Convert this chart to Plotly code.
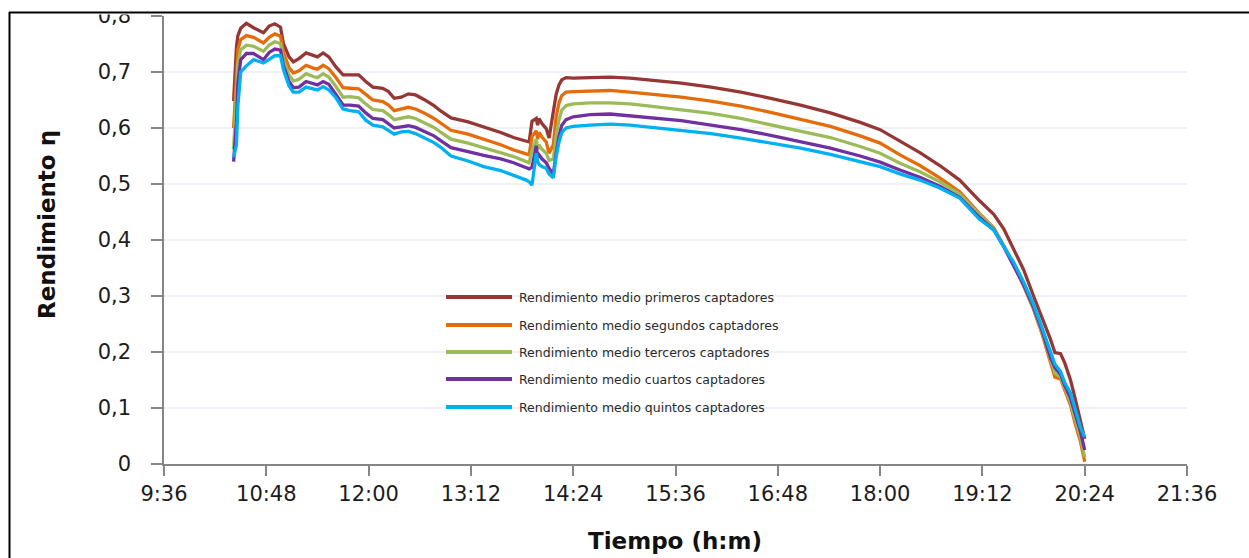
import plotly.graph_objects as go

# ---- data -------------------------------------------------------------
times = ["10:25", "10:27", "10:28", "10:30", "10:34", "10:39", "10:46", "10:50",
         "10:54", "10:58", "11:00", "11:04", "11:07", "11:11", "11:16", "11:21",
         "11:24", "11:28", "11:32", "11:37", "11:42", "11:47", "11:53", "11:58",
         "12:03", "12:10", "12:14", "12:18", "12:23", "12:28", "12:33", "12:39",
         "12:46", "12:51", "12:58", "13:10", "13:21", "13:33", "13:42", "13:51",
         "13:53", "13:55", "13:58", "13:59", "14:00", "14:02", "14:05", "14:07",
         "14:10", "14:12", "14:14", "14:16", "14:19", "14:24", "14:36", "14:50",
         "15:04", "15:18", "15:40", "16:01", "16:22", "16:43", "17:04", "17:25",
         "17:46", "18:00", "18:14", "18:28", "18:42", "18:56", "19:10", "19:20",
         "19:27", "19:34", "19:41", "19:48", "19:54", "20:00", "20:03", "20:07",
         "20:10", "20:14", "20:17", "20:21", "20:24"]

primeros = [0.648, 0.745, 0.765, 0.778, 0.787, 0.779, 0.770, 0.782, 0.786, 0.780,
            0.751, 0.727, 0.718, 0.724, 0.734, 0.729, 0.727, 0.734, 0.727, 0.709,
            0.695, 0.695, 0.695, 0.683, 0.673, 0.671, 0.665, 0.653, 0.655, 0.661,
            0.659, 0.651, 0.640, 0.630, 0.618, 0.611, 0.602, 0.592, 0.583, 0.576,
            0.575, 0.612, 0.617, 0.605, 0.617, 0.608, 0.599, 0.582, 0.635, 0.660,
            0.677, 0.686, 0.690, 0.689, 0.690, 0.691, 0.689, 0.686, 0.680, 0.673,
            0.664, 0.653, 0.641, 0.627, 0.610, 0.597, 0.577, 0.556, 0.533, 0.507,
            0.470, 0.446, 0.420, 0.384, 0.347, 0.300, 0.262, 0.222, 0.199, 0.197,
            0.180, 0.150, 0.120, 0.079, 0.045]

segundos = [0.600, 0.700, 0.740, 0.758, 0.765, 0.762, 0.752, 0.762, 0.768, 0.764,
            0.735, 0.708, 0.698, 0.702, 0.712, 0.707, 0.705, 0.712, 0.706, 0.690,
            0.672, 0.671, 0.670, 0.660, 0.650, 0.647, 0.641, 0.631, 0.634, 0.637,
            0.634, 0.627, 0.617, 0.608, 0.596, 0.589, 0.580, 0.570, 0.561, 0.553,
            0.552, 0.585, 0.595, 0.580, 0.592, 0.584, 0.575, 0.555, 0.570, 0.620,
            0.645, 0.658, 0.664, 0.665, 0.666, 0.667, 0.664, 0.661, 0.655, 0.648,
            0.639, 0.628, 0.616, 0.603, 0.586, 0.573, 0.552, 0.533, 0.511, 0.486,
            0.447, 0.422, 0.390, 0.356, 0.318, 0.276, 0.232, 0.180, 0.155, 0.152,
            0.130, 0.105, 0.075, 0.040, 0.004]

terceros = [0.562, 0.660, 0.715, 0.740, 0.748, 0.746, 0.737, 0.748, 0.754, 0.751,
            0.722, 0.695, 0.684, 0.687, 0.697, 0.692, 0.690, 0.697, 0.691, 0.674,
            0.655, 0.656, 0.654, 0.643, 0.633, 0.631, 0.624, 0.615, 0.617, 0.620,
            0.617, 0.610, 0.601, 0.592, 0.580, 0.573, 0.565, 0.556, 0.549, 0.540,
            0.538, 0.560, 0.580, 0.562, 0.570, 0.562, 0.555, 0.542, 0.545, 0.585,
            0.615, 0.632, 0.640, 0.643, 0.645, 0.645, 0.643, 0.639, 0.633, 0.626,
            0.617, 0.606, 0.595, 0.583, 0.567, 0.555, 0.537, 0.522, 0.504, 0.482,
            0.445, 0.420, 0.390, 0.357, 0.320, 0.278, 0.235, 0.185, 0.162, 0.155,
            0.135, 0.110, 0.082, 0.048, 0.012]

cuartos = [0.540, 0.610, 0.680, 0.722, 0.733, 0.733, 0.722, 0.735, 0.741, 0.739,
           0.712, 0.683, 0.672, 0.673, 0.683, 0.679, 0.677, 0.683, 0.678, 0.660,
           0.641, 0.641, 0.639, 0.627, 0.617, 0.615, 0.608, 0.600, 0.602, 0.604,
           0.601, 0.594, 0.586, 0.577, 0.565, 0.558, 0.551, 0.545, 0.538, 0.529,
           0.527, 0.530, 0.568, 0.548, 0.552, 0.545, 0.538, 0.528, 0.518, 0.555,
           0.585, 0.605, 0.615, 0.620, 0.624, 0.625, 0.622, 0.619, 0.613, 0.605,
           0.597, 0.587, 0.576, 0.564, 0.550, 0.539, 0.525, 0.512, 0.496, 0.476,
           0.440, 0.418, 0.388, 0.355, 0.320, 0.280, 0.238, 0.190, 0.172, 0.160,
           0.140, 0.118, 0.092, 0.058, 0.025]

quintos = [0.548, 0.570, 0.640, 0.700, 0.711, 0.722, 0.716, 0.722, 0.729, 0.729,
           0.705, 0.675, 0.664, 0.664, 0.673, 0.670, 0.668, 0.674, 0.668, 0.654,
           0.634, 0.631, 0.629, 0.614, 0.605, 0.602, 0.596, 0.589, 0.593, 0.594,
           0.590, 0.582, 0.574, 0.565, 0.550, 0.541, 0.531, 0.524, 0.516, 0.507,
           0.504, 0.498, 0.555, 0.540, 0.535, 0.531, 0.528, 0.518, 0.511, 0.549,
           0.575, 0.592, 0.600, 0.603, 0.605, 0.607, 0.605, 0.601, 0.596, 0.590,
           0.582, 0.573, 0.564, 0.553, 0.540, 0.531, 0.518, 0.507, 0.493, 0.475,
           0.437, 0.418, 0.388, 0.360, 0.325, 0.285, 0.243, 0.200, 0.178, 0.165,
           0.145, 0.127, 0.102, 0.066, 0.048]

series_names = ["Rendimiento medio primeros captadores",
                "Rendimiento medio segundos captadores",
                "Rendimiento medio terceros captadores",
                "Rendimiento medio cuartos captadores",
                "Rendimiento medio quintos captadores"]
series_values = [primeros, segundos, terceros, cuartos, quintos]
series_colors = ["#953735", "#E46C0A", "#9BBB59", "#7030A0", "#00B0F0"]

x_tick_labels = ["9:36", "10:48", "12:00", "13:12", "14:24", "15:36",
                 "16:48", "18:00", "19:12", "20:24", "21:36"]
y_tick_values = [0, 0.1, 0.2, 0.3, 0.4, 0.5, 0.6, 0.7, 0.8]
y_tick_labels = ["0", "0,1", "0,2", "0,3", "0,4", "0,5", "0,6", "0,7", "0,8"]


def to_minutes(hhmm):
    h, m = hhmm.split(":")
    return int(h) * 60 + int(m)


t_min = [to_minutes(t) for t in times]
x_tick_values = [to_minutes(t) for t in x_tick_labels]

# ---- geometry (pixels) ------------------------------------------------
W, H = 1249, 558
ML, MR, MT, MB = 164, 62, 16, 94
PW, PH = W - ML - MR, H - MT - MB


def px(xp):
    return (xp - ML) / PW


def py(yp):
    return (H - MB - yp) / PH


fig = go.Figure()
for name, vals, col in zip(series_names, series_values, series_colors):
    fig.add_trace(go.Scatter(x=t_min, y=vals, mode="lines", name=name,
                             line=dict(color=col, width=3.3),
                             showlegend=False, hoverinfo="skip"))

tick_font = dict(family="DejaVu Sans", size=21, color="#1c1c1c")
axis_grey = "#868686"

fig.update_layout(
    width=W, height=H,
    margin=dict(l=ML, r=MR, t=MT, b=MB, pad=0, autoexpand=False),
    paper_bgcolor="white", plot_bgcolor="white",
    xaxis=dict(range=[x_tick_values[0], x_tick_values[-1]], automargin=False,
               tickmode="array", tickvals=x_tick_values, ticktext=x_tick_labels,
               ticks="outside", ticklen=10, tickwidth=1.5, tickcolor=axis_grey,
               showline=True, linecolor=axis_grey, linewidth=1.5,
               showgrid=False, zeroline=False, tickfont=tick_font,
               ticklabelstandoff=0),
    yaxis=dict(range=[0, 0.8], automargin=False,
               tickmode="array", tickvals=y_tick_values, ticktext=y_tick_labels,
               ticks="outside", ticklen=11, tickwidth=1.5, tickcolor=axis_grey,
               showline=True, linecolor=axis_grey, linewidth=1.5,
               showgrid=True, gridcolor="#EEF2F7", gridwidth=1.5,
               zeroline=False, tickfont=tick_font, ticklabelstandoff=16),
)

title_font = dict(family="DejaVu Sans", size=23, color="#111111", weight="bold")
annotations = [
    dict(text="Tiempo (h:m)", x=px(675), y=py(541), xref="paper", yref="paper",
         showarrow=False, font=title_font, xanchor="center", yanchor="middle"),
    dict(text="Rendimiento η", x=px(47), y=py(225), xref="paper", yref="paper",
         showarrow=False, font=title_font, textangle=-90,
         xanchor="center", yanchor="middle"),
]

shapes = []
# key drawn inside the plot area
key_rows = [297, 325, 352, 379, 407]
for name, col, yr in zip(series_names, series_colors, key_rows):
    shapes.append(dict(type="line", xref="paper", yref="paper",
                       x0=px(446), x1=px(512), y0=py(yr), y1=py(yr),
                       line=dict(color=col, width=4)))
    annotations.append(dict(text=name, x=px(517), y=py(yr), xref="paper",
                            yref="paper", showarrow=False, xanchor="left",
                            yanchor="middle",
                            font=dict(family="DejaVu Sans", size=12.5,
                                      color="#2a2a2a")))

# frame: white strip at the top edge, then black border lines
shapes.append(dict(type="rect", xref="paper", yref="paper", layer="above",
                   x0=px(0), x1=px(W), y0=py(14.5), y1=py(-2),
                   fillcolor="white", line=dict(width=0)))
shapes.append(dict(type="line", xref="paper", yref="paper", layer="above",
                   x0=px(9), x1=px(W), y0=py(12.5), y1=py(12.5),
                   line=dict(color="black", width=2)))
shapes.append(dict(type="line", xref="paper", yref="paper", layer="above",
                   x0=px(9.5), x1=px(9.5), y0=py(12), y1=py(H + 2),
                   line=dict(color="black", width=2)))

fig.update_layout(annotations=annotations, shapes=shapes)
fig.write_html("out.html")
